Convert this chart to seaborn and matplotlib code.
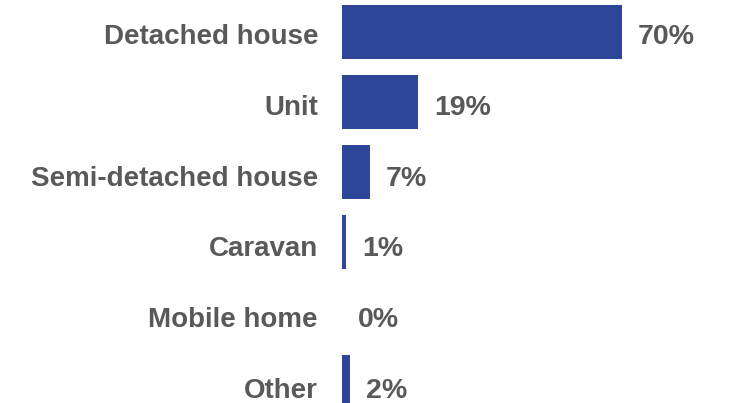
import matplotlib
matplotlib.use("Agg")
import matplotlib.pyplot as plt
import matplotlib.transforms as mtransforms
import seaborn as sns
import pandas as pd

# Dwelling types and their shares (%)
categories = ["Detached house", "Unit", "Semi-detached house", "Caravan", "Mobile home", "Other"]
shares = [70, 19, 7, 1, 0, 2]
value_labels = ["70%", "19%", "7%", "1%", "0%", "2%"]

bar_color = "#2E4698"
text_color = "#595959"

sns.set_theme(style="white")
plt.rcParams["font.family"] = ["Liberation Sans", "DejaVu Sans"]

df = pd.DataFrame({"category": categories, "share": shares})

fig = plt.figure(figsize=(7.30, 4.03), dpi=100)
fig.patch.set_facecolor("white")
ax = fig.add_axes([342 / 730, 0.0, (730 - 342) / 730, 1.0])

step = 70.0          # pixel distance between rows
first = 32.0         # pixel centre of first row from top
bar_px = 54.0        # bar thickness in pixels

sns.barplot(data=df, x="share", y="category", orient="h", color=bar_color,
            width=bar_px / step, saturation=1, ax=ax, edgecolor="none")

ax.set_xlim(0, 97)
ax.set_ylim((403 - first) / step, -first / step)

for s in ax.spines.values():
    s.set_visible(False)
ax.set_xticks([])
ax.set_yticks([])
ax.set_xlabel("")
ax.set_ylabel("")
ax.set_facecolor("white")

# category names to the left of the bars, values to the right;
# text rows run on a slightly wider pitch than the bars
for i, (cat, val, lab) in enumerate(zip(categories, shares, value_labels)):
    dy = -(12.3 + 0.7 * i)
    cat_tr = mtransforms.offset_copy(ax.transData, fig=fig, x=-24, y=dy, units="dots")
    ax.text(0, i, cat, transform=cat_tr, ha="right", va="baseline",
            fontsize=20, fontweight="bold", color=text_color, clip_on=False)
    val_tr = mtransforms.offset_copy(ax.transData, fig=fig, x=16, y=dy, units="dots")
    ax.text(val, i, lab, transform=val_tr, ha="left", va="baseline",
            fontsize=20.5, fontweight="bold", color=text_color, clip_on=False)

fig.savefig("out.png", dpi=100, facecolor="white")
